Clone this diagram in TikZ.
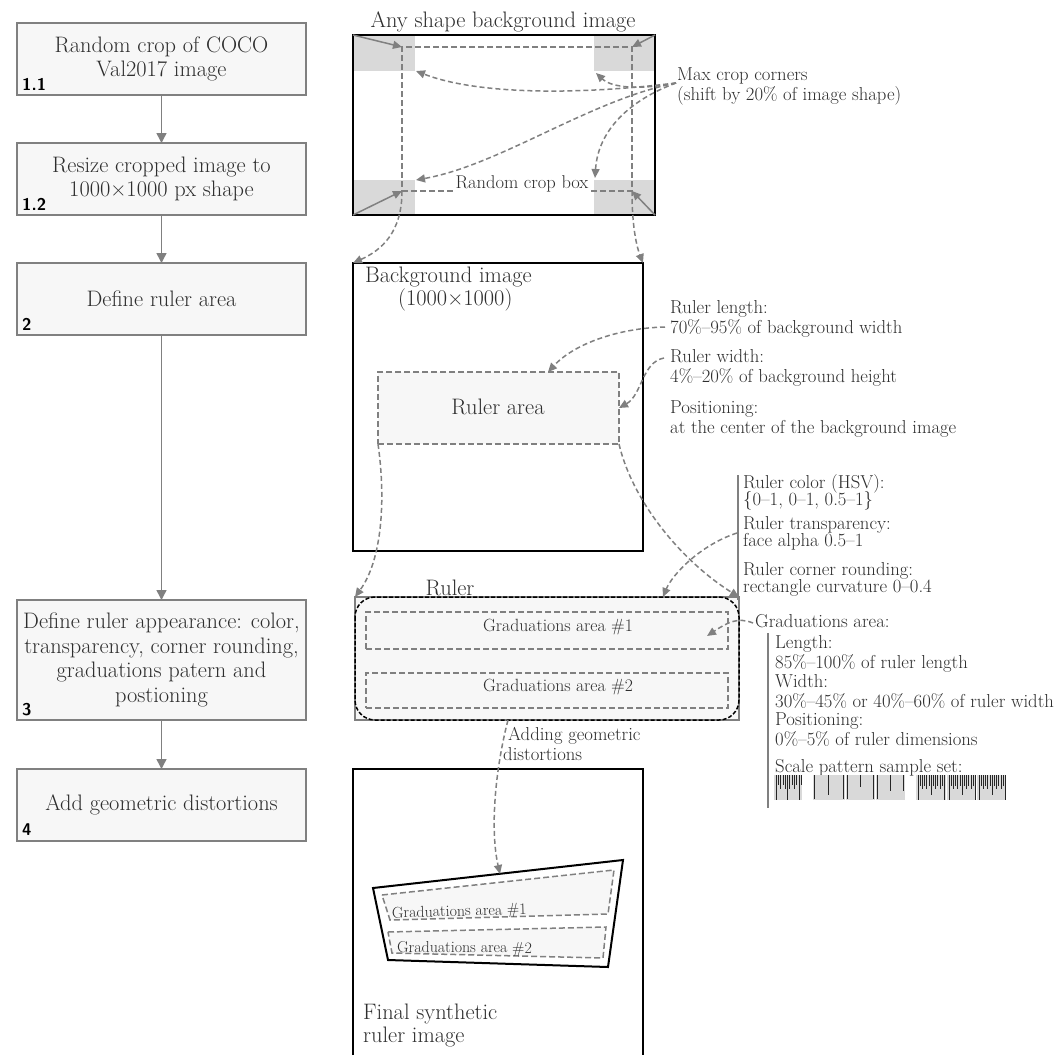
\documentclass[tikz,border=0pt]{standalone}
\usepackage{fontspec}
\usetikzlibrary{arrows.meta}
\definecolor{linegray}{HTML}{808080}
\definecolor{boxfill}{HTML}{F7F7F7}
\definecolor{cornerfill}{HTML}{D9D9D9}
\definecolor{textgray}{HTML}{2E2E2E}
\tikzset{
  txt/.style={font=\fontsize{18.7}{19.5}\selectfont, text=textgray, inner sep=0pt, anchor=base west},
  bigtxt/.style={font=\fontsize{22.4}{24.5}\selectfont, text=textgray, inner sep=0pt},
  gatxt/.style={font=\fontsize{17.7}{19}\selectfont, text=textgray, inner sep=0pt, anchor=base},
  dgatxt/.style={font=\fontsize{15.9}{17}\selectfont, text=textgray, inner sep=0pt, anchor=base west},
  stepbox/.style={draw=linegray, fill=boxfill, line width=1.5pt, minimum width=289pt, align=center, bigtxt, outer sep=0pt},
  numlabel/.style={font=\fontsize{17}{17}\sffamily\bfseries\selectfont, text=black, inner sep=0pt, anchor=base west},
  flowarrow/.style={draw=linegray, line width=1.5pt, -{Triangle[length=10pt,width=10pt]}},
  darrow/.style={draw=linegray, line width=1.5pt, dash pattern=on 5pt off 3pt, -{Triangle[length=9pt,width=8pt]}},
  sarrow/.style={draw=linegray, line width=1.5pt, -{Triangle[length=9pt,width=8pt]}},
  imgbox/.style={draw=black, line width=2pt, inner sep=0pt, outer sep=0pt},
  dashbox/.style={draw=linegray, line width=1.5pt, dash pattern=on 6pt off 3pt, inner sep=0pt, outer sep=0pt},
  bracket/.style={draw=linegray, line width=1.5pt},
  tick/.style={draw=black!85, line width=0.8pt},
}
\begin{document}
\begin{tikzpicture}[x=1pt,y=-1pt]
\useasboundingbox (0,0) rectangle (1063,1055);
\fill[white] (0,0) rectangle (1063,1055);

% ---------------- left flow ----------------
\node[stepbox, minimum height=72pt] (b11) at (161.5,59) {Random crop of COCO\\Val2017 image};
\node[stepbox, minimum height=72pt] (b12) at (161.5,179) {Resize cropped image to\\1000×1000 px shape};
\node[stepbox, minimum height=72pt] (b2) at (161.5,299) {Define ruler area};
\node[stepbox, minimum height=120pt] (b3) at (161.5,660) {Define ruler appearance: color,\\transparency, corner rounding,\\graduations patern and\\postioning};
\node[stepbox, minimum height=72pt] (b4) at (161.5,805) {Add geometric distortions};
\node[numlabel] (n11) at (22,90) {1.1};
\node[numlabel] (n12) at (22,210) {1.2};
\node[numlabel] (n2) at (22,330) {2};
\node[numlabel] (n3) at (22,715) {3};
\node[numlabel] (n4) at (22,835) {4};
\draw[flowarrow] (b11) -- (b12);
\draw[flowarrow] (b12) -- (b2);
\draw[flowarrow] (b2) -- (b3);
\draw[flowarrow] (b3) -- (b4);

% ---------------- top image ----------------
\node[bigtxt, anchor=base] (t1) at (503,27) {Any shape background image};
\fill[cornerfill] (353,35) rectangle (415,71);
\fill[cornerfill] (594,35) rectangle (655,71);
\fill[cornerfill] (353,180) rectangle (415,215);
\fill[cornerfill] (594,180) rectangle (655,215);
\node[imgbox, minimum width=302pt, minimum height=180pt, anchor=north west] (img) at (353,35) {};
\node[dashbox, minimum width=230pt, minimum height=144pt, anchor=north west] (crop) at (402,47) {};
\node[font=\fontsize{18.5}{19}\selectfont, text=textgray, fill=white, inner sep=1pt, anchor=base] (rcb) at (522,188) {Random crop box};
\draw[sarrow] (img.north west) -- (crop.north west);
\draw[sarrow] (img.north east) -- (crop.north east);
\draw[sarrow] (img.south west) -- (crop.south west);
\draw[sarrow] (img.south east) -- (crop.south east);
\coordinate (ctl) at (416,71);
\coordinate (ctr) at (596,73);
\coordinate (cbl) at (416,180);
\coordinate (cbr) at (595,178);
\node[txt] (mc1) at (677,80) {Max crop corners};
\node[txt] (mc2) at (677,100) {(shift by 20\% of image shape)};
\coordinate (mcs) at (676,83);
\draw[darrow] (mcs) .. controls (560,97) and (470,92) .. (ctl);
\draw[darrow] (mcs) .. controls (640,90) and (612,88) .. (ctr);
\draw[darrow] (mcs) .. controls (590,100) and (500,165) .. (cbl);
\draw[darrow] (mcs) .. controls (630,100) and (598,130) .. (cbr);

% ---------------- background image ----------------
\node[imgbox, minimum width=290pt, minimum height=288pt, anchor=north west] (bg) at (353,263) {};
\draw[darrow] (crop.south west) .. controls (402,232) and (382,250) .. (bg.north west);
\draw[darrow] (crop.south east) .. controls (632,232) and (638,250) .. (bg.north east);
\node[bigtxt, anchor=base west] (bgt1) at (365,282) {Background image};
\node[bigtxt, anchor=base west] (bgt2) at (398,305) {(1000×1000)};
\node[dashbox, fill=boxfill, minimum width=241pt, minimum height=72pt, anchor=north west] (ra) at (378,372) {};
\node[bigtxt, anchor=base] (rat) at (498,414) {Ruler area};
\node[txt] (rl1) at (670,313) {Ruler length:};
\node[txt] (rl2) at (670,333) {70\%–95\% of background width};
\node[txt] (rw1) at (670,362) {Ruler width:};
\node[txt] (rw2) at (670,382) {4\%–20\% of background height};
\node[txt] (rp1) at (670,413) {Positioning:};
\node[txt] (rp2) at (670,433) {at the center of the background image};
\coordinate (rls) at (665,327);
\coordinate (rws) at (664,358);
\draw[darrow] (rls) .. controls (620,328) and (575,343) .. (ra.north -| 548,372);
\draw[darrow] (rws) .. controls (642,362) and (642,395) .. (ra.east);

% ---------------- ruler ----------------
\node[draw=linegray, line width=1.5pt, fill=boxfill, minimum width=384pt, minimum height=123pt, inner sep=0pt, outer sep=0pt, anchor=north west] (ruler) at (355,597) {};
\draw[black, line width=1.5pt, dash pattern=on 4pt off 2pt, rounded corners=20pt] (355,597) rectangle (739,720);
\node[bigtxt, anchor=base] (rt) at (450,595) {Ruler};
\node[dashbox, minimum width=362pt, minimum height=37pt, anchor=north west] (ga1) at (366,612) {};
\node[dashbox, minimum width=362pt, minimum height=35pt, anchor=north west] (ga2) at (366,673) {};
\node[gatxt] (ga1t) at (558,631) {Graduations area \#1};
\node[gatxt] (ga2t) at (558,691) {Graduations area \#2};
\draw[darrow] (ra.south west) .. controls (386,500) and (382,560) .. (ruler.north west);
\draw[darrow] (ra.south east) .. controls (632,500) and (680,560) .. (ruler.north east);

% ruler appearance annotations
\draw[bracket] (738,475) -- (738,600);
\node[txt] (rc1) at (743,488) {Ruler color (HSV):};
\node[txt] (rc2) at (743,505) {\{0–1, 0–1, 0.5–1\}};
\node[txt] (rtr1) at (743,529) {Ruler transparency:};
\node[txt] (rtr2) at (743,546) {face alpha 0.5–1};
\node[txt] (rcr1) at (743,575) {Ruler corner rounding:};
\node[txt] (rcr2) at (743,592) {rectangle curvature 0–0.4};
\coordinate (rts) at (737,533);
\coordinate (rtt) at (663,597);
\draw[darrow] (rts) .. controls (700,545) and (672,575) .. (rtt);

% graduations annotations
\node[txt] (gah) at (755,627) {Graduations area:};
\coordinate (gas) at (753,623);
\coordinate (gat) at (707,636);
\draw[darrow] (gas) .. controls (738,617) and (728,622) .. (gat);
\draw[bracket] (768,633) -- (768,808);
\node[txt] (gl1) at (775,648) {Length:};
\node[txt] (gl2) at (775,668) {85\%–100\% of ruler length};
\node[txt] (gw1) at (775,687) {Width:};
\node[txt] (gw2) at (775,707) {30\%–45\% or 40\%–60\% of ruler width};
\node[txt] (gp1) at (775,725) {Positioning:};
\node[txt] (gp2) at (775,745) {0\%–5\% of ruler dimensions};
\node[txt] (gs1) at (775,772) {Scale pattern sample set:};

% scale patterns
\fill[cornerfill] (774,775) rectangle (802,800);
\fill[cornerfill] (813,775) rectangle (845,800);
\fill[cornerfill] (846,775) rectangle (875,800);
\fill[cornerfill] (876,775) rectangle (905,800);
\fill[cornerfill] (916,775) rectangle (946,800);
\fill[cornerfill] (947,775) rectangle (976,800);
\fill[cornerfill] (977,775) rectangle (1006,800);
\foreach \i in {0,...,11} {
  \pgfmathsetmacro\len{ifthenelse(mod(\i,5)==0,25,ifthenelse(mod(\i,2)==0,14,10))}
  \draw[tick] (776+2.3*\i,775) -- ++(0,\len);
}
\foreach \bx in {918,949,979} {
  \foreach \i in {0,...,12} {
    \pgfmathsetmacro\len{ifthenelse(mod(\i,12)==0,25,ifthenelse(mod(\i,6)==0,20,ifthenelse(mod(\i,2)==0,14,11)))}
    \draw[tick] (\bx+2.2*\i,775) -- ++(0,\len);
  }
}
\draw[tick] (814,775) -- ++(0,24);
\draw[tick] (828,775) -- ++(0,20);
\draw[tick] (843,775) -- ++(0,24);
\draw[tick] (847,775) -- ++(0,24);
\draw[tick] (860,775) -- ++(0,12);
\draw[tick] (873,775) -- ++(0,24);
\draw[tick] (877,775) -- ++(0,24);
\draw[tick] (890,775) -- ++(0,16);
\draw[tick] (903,775) -- ++(0,16);

% ---------------- distortions ----------------
\node[txt] (ag1) at (508,740) {Adding geometric};
\node[txt] (ag2) at (503,760) {distortions};
\coordinate (fbl) at (353,1055);
\coordinate (ftl) at (353,769);
\coordinate (ftr) at (643,769);
\coordinate (fbr) at (643,1055);
\draw[black, line width=2pt] (fbl) -- (ftl) -- (ftr) -- (fbr);
\draw[black, line width=2pt, fill=white, line join=miter] (373,888) -- (623,860) -- (608,967) -- (388,960) -- cycle;
\draw[draw=linegray, line width=1.5pt, dash pattern=on 6pt off 3pt, fill=boxfill] (382,895) -- (614,870) -- (608,914) -- (390,920) -- cycle;
\draw[draw=linegray, line width=1.5pt, dash pattern=on 6pt off 3pt, fill=boxfill] (388,932) -- (606,927) -- (603,958) -- (392,953) -- cycle;
\node[dgatxt, rotate=1.6] (d1t) at (392,918) {Graduations area \#1};
\node[dgatxt, rotate=-0.5] (d2t) at (397,952) {Graduations area \#2};
\coordinate (dtop) at (500,874);
\draw[darrow] (ruler.south -| 508,720) .. controls (495,770) and (490,830) .. (dtop);
\node[bigtxt, anchor=base west] (fin1) at (363,1019) {Final synthetic};
\node[bigtxt, anchor=base west] (fin2) at (363,1042) {ruler image};
\end{tikzpicture}
\end{document}
